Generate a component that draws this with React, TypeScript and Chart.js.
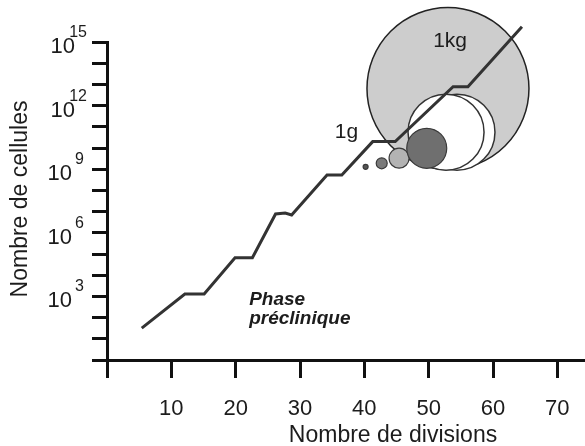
import { useEffect, useRef } from 'react';
import { Chart, registerables } from 'chart.js';

Chart.register(...registerables);

const FONT = '"Liberation Sans", Arial, Helvetica, sans-serif';
const INK = '#1c1c1c';

// Tumour growth curve: number of divisions vs number of cells
const divisions = [5.4, 12.1, 15.1, 19.9, 22.6, 26.2, 27.7, 28.7, 34.2, 36.5, 41.3, 44.8, 53.8, 56.1, 64.5];
const cellCounts = [32, 1.3e3, 1.3e3, 6.7e4, 6.7e4, 7.7e6, 8.5e6, 6.9e6, 5.3e8, 5.3e8, 2e10, 2e10, 7.8e12, 7.8e12, 5.2e15];

// Small tumour masses along the curve
const massDivisions = [40.2, 42.7, 45.4, 49.7];
const massCells = [1.3e9, 1.9e9, 3.3e9, 9.7e9];
const massRadii = [2.5, 5.5, 10, 20];
const massColors = ['#555555', '#7a7a7a', '#b3b3b3', '#6f6f6f'];

// Hollow (white) mass
const hollowDivisions = [54.4, 52.7];
const hollowCells = [5.6e10, 5.6e10];
const hollowRadii = [38, 38];

// 1 kg mass
const kgDivisions = [53.0];
const kgCells = [6.4e12];
const kgRadii = [81];

// Axis ticks
const xTicks = [0, 10, 20, 30, 40, 50, 60, 70];
const xLabels = [10, 20, 30, 40, 50, 60, 70];
const yDecades = [0, 1, 2, 3, 4, 5, 6, 7, 8, 9, 10, 11, 12, 13, 14, 15];
const yLabelExponents = [3, 6, 9, 12, 15];

const figureText = {
  id: 'figureText',
  afterDraw(chart: any) {
    const { ctx } = chart;
    const x = chart.scales.x;
    const y = chart.scales.y;
    ctx.save();
    ctx.fillStyle = INK;
    ctx.textBaseline = 'alphabetic';

    // x tick labels
    ctx.font = `22px ${FONT}`;
    ctx.textAlign = 'center';
    xLabels.forEach((v) => ctx.fillText(String(v), x.getPixelForValue(v), y.bottom + 55));

    // y tick labels as powers of ten
    yLabelExponents.forEach((n) => {
      const py = y.getPixelForValue(10 ** n);
      const two = n >= 10;
      ctx.font = `22px ${FONT}`;
      ctx.textAlign = 'right';
      ctx.fillText('10', x.left - (two ? 32 : 35), py + 11);
      ctx.font = `16px ${FONT}`;
      if (two) {
        ctx.textAlign = 'right';
        ctx.fillText(String(n), x.left - 20, py - 5);
      } else {
        ctx.textAlign = 'left';
        ctx.fillText(String(n), x.left - 32, py - 5);
      }
    });

    // axis titles
    ctx.font = `23px ${FONT}`;
    ctx.textAlign = 'center';
    ctx.fillText('Nombre de divisions', 393, 442);
    ctx.save();
    ctx.translate(27, 199);
    ctx.rotate(-Math.PI / 2);
    ctx.fillText('Nombre de cellules', 0, 0);
    ctx.restore();

    // annotations
    ctx.textAlign = 'left';
    ctx.font = `21px ${FONT}`;
    ctx.fillText('1g', x.getPixelForValue(35.4), y.getPixelForValue(10 ** 10.47));
    ctx.fillText('1kg', x.getPixelForValue(50.7), y.getPixelForValue(10 ** 14.76));
    ctx.font = `italic bold 19px ${FONT}`;
    ctx.fillText('Phase', x.getPixelForValue(22.1), y.getPixelForValue(10 ** 2.59));
    ctx.fillText('préclinique', x.getPixelForValue(22.1), y.getPixelForValue(10 ** 1.7));
    ctx.restore();
  },
};

const toPoints = (xs: number[], ys: number[], rs?: number[]) =>
  xs.map((v, i) => (rs ? { x: v, y: ys[i], r: rs[i] } : { x: v, y: ys[i] }));

export default function App() {
  const canvasRef = useRef<HTMLCanvasElement | null>(null);

  useEffect(() => {
    const canvas = canvasRef.current;
    if (!canvas) return;
    const chart = new Chart(canvas, {
      type: 'line',
      data: {
        datasets: [
          {
            type: 'line',
            label: 'Croissance',
            data: toPoints(divisions, cellCounts),
            borderColor: '#333333',
            borderWidth: 3,
            pointRadius: 0,
            tension: 0,
            clip: false,
            order: 0,
          } as any,
          {
            type: 'bubble',
            label: 'Masses',
            data: toPoints(massDivisions, massCells, massRadii),
            backgroundColor: massColors,
            borderColor: '#3a3a3a',
            borderWidth: 1.2,
            hoverRadius: 0,
            clip: false,
            order: 1,
          } as any,
          {
            type: 'bubble',
            label: 'Masse creuse',
            data: toPoints(hollowDivisions, hollowCells, hollowRadii),
            backgroundColor: '#ffffff',
            borderColor: '#333333',
            borderWidth: 1.5,
            hoverRadius: 0,
            clip: false,
            order: 2,
          } as any,
          {
            type: 'bubble',
            label: '1kg',
            data: toPoints(kgDivisions, kgCells, kgRadii),
            backgroundColor: '#cdcdcd',
            borderColor: '#222222',
            borderWidth: 1.5,
            hoverRadius: 0,
            clip: false,
            order: 3,
          } as any,
        ],
      },
      options: {
        responsive: false,
        animation: false,
        events: [],
        layout: { autoPadding: false, padding: { top: 42, left: 0, right: 0, bottom: 0 } },
        plugins: { legend: { display: false }, tooltip: { enabled: false } },
        scales: {
          x: {
            type: 'linear',
            min: 0,
            max: 74.3,
            afterBuildTicks: (scale: any) => {
              scale.ticks = xTicks.map((v) => ({ value: v }));
            },
            afterFit: (scale: any) => {
              scale.height = 86;
            },
            ticks: { display: false },
            grid: {
              drawOnChartArea: false,
              drawTicks: true,
              tickLength: 18,
              tickWidth: 3,
              tickColor: '#111111',
            },
            border: { display: true, width: 3, color: '#111111' },
          },
          y: {
            type: 'logarithmic',
            min: 1,
            max: 1e15,
            afterBuildTicks: (scale: any) => {
              scale.ticks = yDecades.map((n) => ({ value: 10 ** n }));
            },
            afterFit: (scale: any) => {
              scale.width = 107;
            },
            ticks: { display: false },
            grid: {
              drawOnChartArea: false,
              drawTicks: true,
              tickLength: 15,
              tickWidth: 3,
              tickColor: '#111111',
            },
            border: { display: true, width: 3, color: '#111111' },
          },
        },
      },
      plugins: [figureText],
    });
    return () => chart.destroy();
  }, []);

  return (
    <div style={{ position: 'fixed', left: 0, top: 0, width: 585, height: 446, background: '#ffffff' }}>
      <canvas ref={canvasRef} width={585} height={446} />
    </div>
  );
}
